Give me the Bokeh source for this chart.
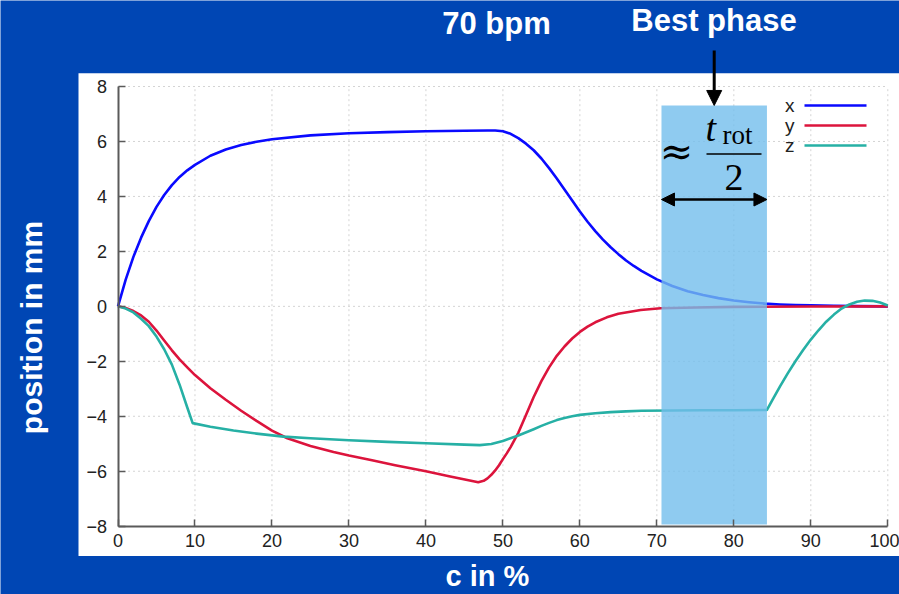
import numpy as np
from bokeh.plotting import figure
from bokeh.models import Range1d, LinearAxis, FixedTicker, Label, Arrow, NormalHead
from bokeh.core.properties import value
from bokeh.embed import file_html
from bokeh.resources import INLINE

# ---------------- data ----------------
X_POS = [0, 1, 2, 3, 4, 5, 6, 7, 8, 9, 10, 12, 14, 16, 18, 20, 25, 30, 35, 40, 45, 48, 49, 50,
         51, 52, 53, 54, 55, 56, 57, 58, 59, 60, 61, 62, 63, 64, 65, 66, 67, 68, 70, 72, 74, 76,
         78, 80, 82, 84, 86, 88, 90, 93, 96, 100]
X_VAL = [0, 0.97, 1.8, 2.5, 3.1, 3.62, 4.05, 4.41, 4.71, 4.95, 5.15, 5.48, 5.71, 5.87, 5.99,
         6.08, 6.22, 6.3, 6.34, 6.37, 6.39, 6.40, 6.40, 6.37, 6.28, 6.12, 5.92, 5.68, 5.38, 5.03,
         4.65, 4.25, 3.85, 3.45, 3.08, 2.74, 2.43, 2.15, 1.9, 1.67, 1.47, 1.29, 0.98, 0.74, 0.55,
         0.41, 0.3, 0.21, 0.15, 0.1, 0.07, 0.05, 0.035, 0.02, 0.01, 0.0]

Y_POS = [0, 1, 2, 3, 4, 5, 6, 7, 8, 9, 10, 12, 14, 16, 18, 20, 22, 25, 28, 30, 33, 36, 40, 43,
         46.8, 47.5, 48, 48.5, 49, 49.5, 50, 50.5, 51, 52, 53, 54, 55, 56, 57, 58, 59, 60, 61,
         62, 63.5, 65, 67.9, 70.5, 75, 80, 90, 100]
Y_VAL = [0, -0.06, -0.17, -0.33, -0.56, -0.88, -1.24, -1.6, -1.93, -2.22, -2.5, -2.98, -3.4,
         -3.8, -4.17, -4.52, -4.8, -5.08, -5.3, -5.43, -5.6, -5.78, -6.0, -6.18, -6.40, -6.35,
         -6.26, -6.13, -5.97, -5.78, -5.56, -5.35, -5.12, -4.6, -3.95, -3.3, -2.72, -2.22,
         -1.8, -1.46, -1.17, -0.93, -0.74, -0.58, -0.4, -0.27, -0.13, -0.07, -0.04, -0.02,
         -0.005, 0]

Z_POS = [0, 1, 2, 3, 4, 5, 6, 7, 8, 9, 9.7, 12, 15, 18, 21.5, 25, 30, 35, 40, 45, 47, 48.5, 50,
         52, 54, 55, 56, 57, 58, 59, 60, 62, 64, 66, 68, 72, 76, 80, 84.3, 85, 86, 87, 88, 89,
         90, 91, 92, 93, 94, 95, 96, 97, 98, 99, 100]
Z_VAL = [0, -0.08, -0.22, -0.45, -0.72, -1.1, -1.56, -2.12, -2.85, -3.68, -4.25, -4.38, -4.52,
         -4.63, -4.74, -4.8, -4.87, -4.93, -4.98, -5.03, -5.05, -5.01, -4.9, -4.7, -4.47, -4.35,
         -4.24, -4.14, -4.06, -4.0, -3.95, -3.89, -3.85, -3.82, -3.8, -3.79, -3.78, -3.78,
         -3.77, -3.41, -2.91, -2.44, -2.0, -1.59, -1.21, -0.87, -0.56, -0.3, -0.08, 0.07, 0.17,
         0.21, 0.2, 0.14, 0.03]

SERIES_NAMES = ["x", "y", "z"]
XTICKS = [0, 10, 20, 30, 40, 50, 60, 70, 80, 90, 100]
YTICKS = [-8, -6, -4, -2, 0, 2, 4, 6, 8]
YTICK_LABELS = ["\u22128", "\u22126", "\u22124", "\u22122", "0", "2", "4", "6", "8"]
BEST_PHASE = (70.6, 84.3)
BAND_Y = (-7.94, 7.31)

TITLE = "70 bpm"
BEST_LABEL = "Best phase"
XLABEL = "c in %"
YLABEL = "position in mm"

# ---------------- styles / geometry ----------------
W, H = 899, 594
BG_BLUE = "#0046b4"
COLORS = ["#0a0aff", "#dc143c", "#26b0a5"]
PX0, PX100 = 117.5, 887.3     # pixel of x=0 and x=100
PY8, PYM8 = 86.0, 525.7       # pixel of y=8 and y=-8
sx = (PX100 - PX0) / 100.0
sy = (PYM8 - PY8) / 16.0
PY0 = PY8 + 8 * sy


def X(px):
    return (px - PX0) / sx


def Y(py):
    return (PY0 - py) / sy


p = figure(width=W, height=H, output_backend="svg", toolbar_location=None,
           x_range=Range1d(X(0), X(W)), y_range=Range1d(Y(H), Y(0)),
           x_axis_location=None, y_axis_location=None, min_border=0)
p.grid.visible = False
p.outline_line_color = None
p.background_fill_color = BG_BLUE
p.border_fill_color = BG_BLUE

# white panel
p.quad(left=X(78), right=X(W + 5), bottom=Y(555.5), top=Y(72.7),
       fill_color="white", line_color=None)

# dotted grid
gx = XTICKS[1:]
p.segment(x0=gx, y0=[YTICKS[0]] * len(gx), x1=gx, y1=[YTICKS[-1]] * len(gx),
          line_color="#d4d4d4", line_width=1, line_dash="2 3")
gy = YTICKS[1:]
p.segment(x0=[XTICKS[0]] * len(gy), y0=gy, x1=[XTICKS[-1]] * len(gy), y1=gy,
          line_color="#d4d4d4", line_width=1, line_dash="2 3")

# curves
for xs, ys, c in [(X_POS, X_VAL, COLORS[0]), (Y_POS, Y_VAL, COLORS[1]), (Z_POS, Z_VAL, COLORS[2])]:
    p.line(xs, ys, line_color=c, line_width=2.6, line_join="round")

# best phase band
p.quad(left=BEST_PHASE[0], right=BEST_PHASE[1], bottom=BAND_Y[0], top=BAND_Y[1],
       fill_color=(115, 190, 236), fill_alpha=0.8, line_color=None)

# axes
xaxis = LinearAxis(fixed_location=YTICKS[0], bounds=(XTICKS[0], XTICKS[-1]),
                   ticker=FixedTicker(ticks=XTICKS))
yaxis = LinearAxis(fixed_location=XTICKS[0], bounds=(YTICKS[0], YTICKS[-1]),
                   ticker=FixedTicker(ticks=YTICKS),
                   major_label_overrides={float(t): l for t, l in zip(YTICKS, YTICK_LABELS)})
for ax, standoff in [(xaxis, 8), (yaxis, 11)]:
    ax.axis_line_color = "#5a5a5a"
    ax.axis_line_width = 2
    ax.major_tick_line_color = "#5a5a5a"
    ax.major_tick_line_width = 1.5
    ax.major_tick_in = 7
    ax.major_tick_out = 0
    ax.minor_tick_line_color = None
    ax.major_label_text_font = "Liberation Sans"
    ax.major_label_text_font_size = "18px"
    ax.major_label_text_color = "#222222"
    ax.major_label_standoff = standoff
p.add_layout(xaxis, "below")
p.add_layout(yaxis, "left")

# legend (label left, line sample right)
LEG_ROWS = [105, 125, 145]
for name, c, py in zip(SERIES_NAMES, COLORS, LEG_ROWS):
    p.add_layout(Label(x=X(794), y=Y(py), text=name, text_align="right",
                       text_baseline="middle", text_font="Liberation Sans",
                       text_font_size="19px", text_color="#222222"))
    p.segment(x0=[X(804)], y0=[Y(py)], x1=[X(866)], y1=[Y(py)], line_color=c, line_width=2.6)

# math annotation: ≈ t_rot / 2
serif = "Liberation Serif"
p.add_layout(Label(x=X(676), y=Y(150), text="\u2248", text_align="center",
                   text_baseline="middle", text_font="DejaVu Serif", text_font_size="40px",
                   text_color="black"))
p.add_layout(Label(x=X(705), y=Y(127), text="t", text_align="left",
                   text_baseline="middle", text_font=serif, text_font_style="italic",
                   text_font_size="38px", text_color="black"))
p.add_layout(Label(x=X(722), y=Y(134), text="rot", text_align="left",
                   text_baseline="middle", text_font=serif,
                   text_font_size="27px", text_color="black"))
p.segment(x0=[X(706)], y0=[Y(153.5)], x1=[X(761)], y1=[Y(153.5)], line_color="black",
          line_width=1.6)
p.add_layout(Label(x=X(733.5), y=Y(177), text="2", text_align="center",
                   text_baseline="middle", text_font=serif,
                   text_font_size="38px", text_color="black"))

# double arrow across band
p.add_layout(Arrow(start=NormalHead(size=13, fill_color="black", line_color="black"),
                   end=NormalHead(size=13, fill_color="black", line_color="black"),
                   x_start=BEST_PHASE[0], y_start=Y(199), x_end=BEST_PHASE[1], y_end=Y(199),
                   line_color="black", line_width=2.5))

# Best phase arrow
mid = (BEST_PHASE[0] + BEST_PHASE[1]) / 2
p.add_layout(Arrow(end=NormalHead(size=15, fill_color="black", line_color="black"),
                   x_start=mid, y_start=Y(50), x_end=mid, y_end=BAND_Y[1],
                   line_color="black", line_width=3))

# titles / labels on blue
tfont = "Liberation Sans"
p.add_layout(Label(x=X(496), y=Y(23), text=TITLE, text_align="center", text_baseline="middle",
                   text_font=tfont, text_font_style="bold", text_font_size="31px",
                   text_color="white"))
p.add_layout(Label(x=X(713.5), y=Y(20), text=BEST_LABEL, text_align="center",
                   text_baseline="middle", text_font=tfont, text_font_style="bold",
                   text_font_size="31px", text_color="white"))
p.add_layout(Label(x=X(487), y=Y(575), text=XLABEL, text_align="center", text_baseline="middle",
                   text_font=tfont, text_font_style="bold", text_font_size="29px",
                   text_color="white"))
p.add_layout(Label(x=X(31), y=Y(327), text=YLABEL, text_align="center", text_baseline="middle",
                   angle=np.pi / 2, text_font=tfont, text_font_style="bold",
                   text_font_size="30px", text_color="white"))

open("out.html", "w").write(file_html(p, INLINE))
